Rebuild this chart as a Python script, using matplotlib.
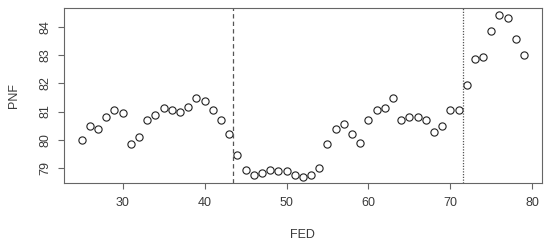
import matplotlib
matplotlib.use("Agg")
import matplotlib.pyplot as plt

fed = list(range(25, 80))
pnf = [79.98, 80.50, 80.38, 80.81, 81.04, 80.94, 79.84, 80.09, 80.70, 80.88,
       81.13, 81.04, 81.00, 81.17, 81.47, 81.38, 81.04, 80.70, 80.22, 79.46,
       78.93, 78.74, 78.82, 78.93, 78.88, 78.88, 78.74, 78.68, 78.74, 78.99,
       79.85, 80.37, 80.56, 80.22, 79.90, 80.70, 81.04, 81.13, 81.47, 80.70,
       80.81, 80.81, 80.70, 80.28, 80.47, 81.04, 81.04, 81.96, 82.87, 82.95,
       83.86, 84.44, 84.34, 83.59, 83.00]
breaks = [43.5, 71.5]
xticks = [30, 40, 50, 60, 70, 80]
yticks = [79, 80, 81, 82, 83, 84]

plt.rcParams['font.family'] = ['Liberation Sans', 'DejaVu Sans']
txt = '#3a3a3a'

fig = plt.figure(figsize=(5.5, 2.46), dpi=100)
ax = fig.add_axes([0.1164, 0.2549, 0.8686, 0.7113])
ax.plot(fed, pnf, 'o', mfc='none', mec='#222222', ms=5.2, mew=0.8)
ax.axvline(breaks[0], color='#555555', lw=0.9, ls=(0, (3.5, 2.5)))
ax.axvline(breaks[1], color='#555555', lw=0.9, ls=(0, (1, 1.2)))

ax.set_xlim(22.84, 81.16)
ax.set_ylim(78.45, 84.67)
ax.set_xticks(xticks)
ax.set_yticks(yticks)
ax.set_yticklabels([str(v) for v in yticks], rotation=90, va='center')
ax.tick_params(colors='#666666', labelcolor=txt, labelsize=9, length=4, width=0.8)
ax.tick_params(axis='x', pad=6)
ax.tick_params(axis='y', pad=5)
for s in ax.spines.values():
    s.set_color('#666666')
    s.set_linewidth(0.8)

ax.set_xlabel('FED', color=txt, fontsize=9, labelpad=14)
ax.set_ylabel('PNF', color=txt, fontsize=9, labelpad=14)

fig.savefig('out.png', dpi=100)
